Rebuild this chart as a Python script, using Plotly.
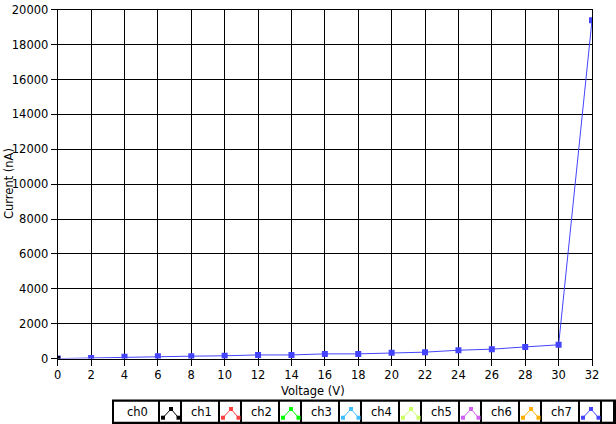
import plotly.graph_objects as go

W, H = 616, 424

# ---- data ----
voltage = [0, 2, 4, 6, 8, 10, 12, 14, 16, 18, 20, 22, 24, 26, 28, 30, 32]
current_ch7 = [0, 40, 100, 140, 140, 160, 210, 210, 270, 270, 330, 370, 480, 540, 670, 790, 19400]
ch0_voltage = [0]
ch0_current = [0]
channels = ["ch0", "ch1", "ch2", "ch3", "ch4", "ch5", "ch6", "ch7"]
channel_colors = ["#000000", "#FF4040", "#00FF00", "#40BFFF", "#CCFF66", "#D060F0", "#FFB000", "#4444FF"]
x_ticks = list(range(0, 33, 2))
y_ticks = list(range(0, 20001, 2000))
y_tick_labels = [str(v) for v in y_ticks]

def px(x):
    return x / W

def py(y):
    return 1 - y / H

FONT = "DejaVu Sans"
FS = 11.5

fig = go.Figure()
fig.add_trace(go.Scatter(
    x=voltage, y=current_ch7, mode="lines+markers",
    line=dict(color=channel_colors[7], width=1),
    marker=dict(symbol="square", size=6, color=channel_colors[7]),
    showlegend=False,
))
fig.add_trace(go.Scatter(
    x=ch0_voltage, y=ch0_current, mode="markers",
    marker=dict(symbol="square", size=5, color=channel_colors[0]),
    showlegend=False,
))

shapes = []
annotations = []

# legend box
shapes.append(dict(type="rect", xref="paper", yref="paper",
                   x0=px(112), x1=px(617), y0=py(425), y1=py(399.5),
                   fillcolor="black", line=dict(width=0), layer="above"))
cell_top, cell_bot = 401.7, 421.7
for i, (name, col) in enumerate(zip(channels, channel_colors)):
    if i == 0:
        lx0, lx1 = 114, 158
    else:
        lx0 = 182 + 60 * (i - 1)
        lx1 = lx0 + 36
    ix0 = lx1 + 2
    ix1 = ix0 + 20
    shapes.append(dict(type="rect", xref="paper", yref="paper",
                       x0=px(lx0), x1=px(lx1), y0=py(cell_bot), y1=py(cell_top),
                       fillcolor="white", line=dict(width=0), layer="above"))
    shapes.append(dict(type="rect", xref="paper", yref="paper",
                       x0=px(ix0), x1=px(ix1), y0=py(cell_bot), y1=py(cell_top),
                       fillcolor="white", line=dict(width=0), layer="above"))
    annotations.append(dict(xref="paper", yref="paper", x=px((lx0 + lx1) / 2 + 1),
                            y=py((cell_top + cell_bot) / 2), text=name, showarrow=False,
                            xanchor="center", yanchor="middle",
                            font=dict(family=FONT, size=FS, color="black")))
    pts = [(ix0 + 3, cell_top + 16), (ix0 + 11, cell_top + 7.3), (ix0 + 18.5, cell_top + 16)]
    path = "M {} {} L {} {} L {} {}".format(px(pts[0][0]), py(pts[0][1]), px(pts[1][0]), py(pts[1][1]),
                                           px(pts[2][0]), py(pts[2][1]))
    shapes.append(dict(type="path", xref="paper", yref="paper", path=path,
                       line=dict(color=col, width=1), layer="above"))
    for (cx, cy) in pts:
        shapes.append(dict(type="rect", xref="paper", yref="paper",
                           x0=px(cx - 2), x1=px(cx + 2), y0=py(cy + 2), y1=py(cy - 2),
                           fillcolor=col, line=dict(width=0), layer="above"))
# trailing blank cell
shapes.append(dict(type="rect", xref="paper", yref="paper",
                   x0=px(602), x1=px(613), y0=py(cell_bot), y1=py(cell_top),
                   fillcolor="white", line=dict(width=0), layer="above"))

# axis titles
annotations.append(dict(xref="paper", yref="paper", x=px(313), y=py(391), text="Voltage (V)",
                        showarrow=False, xanchor="center", yanchor="middle",
                        font=dict(family=FONT, size=FS, color="black")))
annotations.append(dict(xref="paper", yref="paper", x=px(0), y=py(184), text="Current (nA)",
                        showarrow=False, xanchor="left", yanchor="middle", textangle=-90,
                        font=dict(family=FONT, size=FS, color="black")))

axis_common = dict(showgrid=True, gridcolor="black", gridwidth=1, zeroline=False,
                   showline=True, linecolor="black", linewidth=1, mirror=True,
                   ticks="outside", ticklen=6, tickcolor="black", tickwidth=1,
                   automargin=False,
                   tickfont=dict(family=FONT, size=FS, color="black"))

fig.update_layout(
    width=W, height=H,
    margin=dict(l=0, r=0, t=0, b=0, pad=0),
    paper_bgcolor="white", plot_bgcolor="white",
    xaxis=dict(range=[0, 32], tickvals=x_ticks, ticktext=[str(v) for v in x_ticks],
               domain=[px(57.7), px(592)], **axis_common),
    yaxis=dict(range=[0, 20000], tickvals=y_ticks, ticktext=y_tick_labels,
               domain=[py(358.6), py(9.8)], **axis_common),
    shapes=shapes, annotations=annotations, showlegend=False,
)

fig.write_html("out.html", config={"displayModeBar": False},
               post_script="document.body.style.margin='0';")
